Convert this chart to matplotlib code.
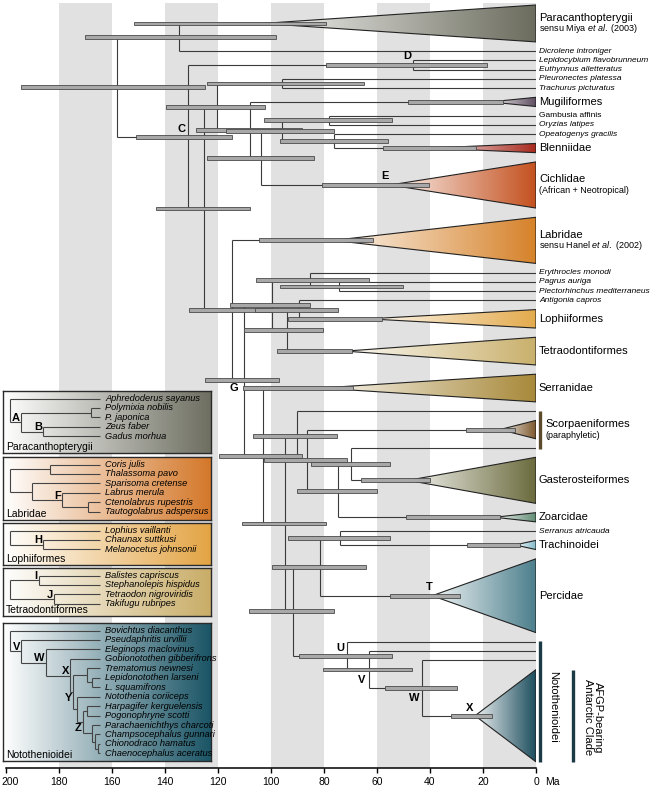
import numpy as np
import matplotlib
matplotlib.use("Agg")
import matplotlib.pyplot as plt
from matplotlib.colors import LinearSegmentedColormap, to_rgb
from matplotlib.patches import Polygon
from matplotlib.transforms import ScaledTranslation

plt.rcParams['font.family'] = ['Liberation Sans', 'DejaVu Sans']
plt.rcParams['mathtext.fontset'] = 'custom'
plt.rcParams['mathtext.rm'] = 'Liberation Sans'
plt.rcParams['mathtext.it'] = 'Liberation Sans:italic'

# ---------------- main tree: terminal lineages, top to bottom ----------------
tip_ids = ["para", "dicr", "lepi", "euth", "pleu", "trac", "mugi", "gamb", "oryz", "opea",
           "blen", "cich", "labr", "eryt", "pagr", "plec", "anti", "loph", "tetr", "serr",
           "scoa", "scor", "scob", "gast", "zoar", "sera", "trch", "perc", "bovi", "pseu",
           "eleg", "afgp"]
tip_labels = ["Paracanthopterygii", "Dicrolene introniger", "Lepidocybium flavobrunneum",
              "Euthynnus alletteratus", "Pleuronectes platessa", "Trachurus picturatus",
              "Mugiliformes", "Gambusia affinis", "Oryzias latipes", "Opeatogenys gracilis",
              "Blenniidae", "Cichlidae", "Labridae", "Erythrocles monodi", "Pagrus auriga",
              "Plectorhinchus mediterraneus", "Antigonia capros", "Lophiiformes",
              "Tetraodontiformes", "Serranidae", "", "Scorpaeniformes", "", "Gasterosteiformes",
              "Zoarcidae", "Serranus atricauda", "Trachinoidei", "Percidae", "", "", "", ""]
tip_italic = [False, True, True, True, True, True, False, False, True, True,
              False, False, False, True, True, True, True, False, False, False,
              False, False, False, False, False, True, False, False, False, False, False, False]
# number of slots a collapsed clade (triangle) takes; 0 = single lineage
tip_span = [4, 0, 0, 0, 0, 0, 1, 0, 0, 0, 1, 5, 5, 0, 0, 0, 0, 2, 3, 3,
            0, 2, 0, 5, 1, 0, 1, 8, 0, 0, 0, 10]
sub_labels = {"para": r"sensu Miya $\it{et\ al.}$ (2003)",
              "cich": "(African + Neotropical)",
              "labr": r"sensu Hanel $\it{et\ al.}$ (2002)",
              "scor": "(paraphyletic)"}

# collapsed clades: crown age and 95% interval (Ma)
clade_ids = ["para", "mugi", "blen", "cich", "labr", "loph", "tetr", "serr",
             "scor", "gast", "zoar", "trch", "perc", "afgp"]
clade_crown = [103.4, 17.4, 40.0, 55.1, 76.6, 63.4, 72.0, 81.5, 13.6, 48.3, 15.5, 7.9, 39.2, 23.0]
clade_ci_old = [151.7, 48.3, 57.7, 80.8, 104.5, 93.6, 97.7, 110.6, 26.4, 66.0, 49.1, 26.0, 55.1, 32.1]
clade_ci_young = [79.2, 12.5, 22.6, 40.4, 61.5, 58.1, 69.4, 69.1, 7.9, 40.0, 13.6, 6.0, 28.7, 16.6]
clade_colors = ["#6b6c5d", "#5c4a5e", "#a82a1e", "#c4501e", "#d6822a", "#e3aa4c", "#c9b06c",
                "#a8893a", "#7a5428", "#6b6b3e", "#5f8a72", "#86bccb", "#4c7f8c", "#1d4e5e"]

# internal nodes: age, 95% interval, children
node_ids = ["root", "n_pd", "C", "D", "n204", "n217", "n_pt", "n250", "n261", "n282",
            "n_go", "n_ob", "n232", "G", "n272", "n310", "n_pp", "n287", "n299", "n263",
            "n285", "n297", "n307", "n338", "n351", "n293", "n320", "n340", "U", "V", "W"]
node_age = [158.1, 134.7, 131.3, 46.4, 125.3, 120.4, 95.8, 107.9, 103.8, 95.8,
            78.1, 76.2, 114.7, 110.2, 99.6, 85.3, 74.3, 94.0, 89.4, 103.0,
            94.7, 90.2, 86.4, 74.7, 69.8, 91.7, 81.5, 74.0, 71.3, 63.0, 43.0]
node_ci_old = [194.3, 170.2, 150.9, 79.2, 143.4, 139.6, 124.2, 128.3, 124.2, 117.0,
               102.6, 96.6, 130.9, 124.9, 115.5, 105.7, 96.6, 110.2, 106.0, 119.6,
               110.9, 106.8, 102.6, 90.2, 84.9, 108.3, 99.6, 93.6, 89.4, 80.4, 57.0]
node_ci_young = [124.9, 98.1, 114.7, 18.5, 107.9, 102.3, 64.9, 88.3, 83.8, 76.2,
                 54.3, 55.8, 99.6, 97.0, 85.3, 63.0, 50.2, 80.4, 74.7, 88.3,
                 79.2, 75.1, 71.3, 60.0, 55.1, 76.2, 64.2, 55.1, 54.3, 46.8, 29.8]
node_children = [("n_pd", "C"), ("para", "dicr"), ("D", "n204"), ("lepi", "euth"),
                 ("n217", "n232"), ("n_pt", "n250"), ("pleu", "trac"), ("mugi", "n261"),
                 ("n282", "cich"), ("n_go", "n_ob"), ("gamb", "oryz"), ("opea", "blen"),
                 ("labr", "G"), ("n272", "n263"), ("n310", "n287"), ("eryt", "n_pp"),
                 ("pagr", "plec"), ("n299", "tetr"), ("anti", "loph"), ("serr", "n285"),
                 ("n297", "n293"), ("scoa", "n307"), ("scor", "n338"), ("n351", "zoar"),
                 ("scob", "gast"), ("n320", "U"), ("n340", "perc"), ("sera", "trch"),
                 ("bovi", "V"), ("pseu", "W"), ("eleg", "afgp")]
node_letters = {"C": "C", "D": "D", "cich": "E", "G": "G", "perc": "T",
                "U": "U", "V": "V", "W": "W", "afgp": "X"}

# ---------------- inset cladograms ----------------
panel_names = ["Paracanthopterygii", "Labridae", "Lophiiformes", "Tetraodontiformes", "Notothenioidei"]
panel_species = [
    ["Aphredoderus sayanus", "Polymixia nobilis", "P. japonica", "Zeus faber", "Gadus morhua"],
    ["Coris julis", "Thalassoma pavo", "Sparisoma cretense", "Labrus merula",
     "Ctenolabrus rupestris", "Tautogolabrus adspersus"],
    ["Lophius vaillanti", "Chaunax suttkusi", "Melanocetus johnsonii"],
    ["Balistes capriscus", "Stephanolepis hispidus", "Tetraodon nigroviridis", "Takifugu rubripes"],
    ["Bovichtus diacanthus", "Pseudaphritis urvillii", "Eleginops maclovinus",
     "Gobionotothen gibberifrons", "Trematomus newnesi", "Lepidonotothen larseni",
     "L. squamifrons", "Notothenia coriiceps", "Harpagifer kerguelensis", "Pogonophryne scotti",
     "Parachaenichthys charcoti", "Champsocephalus gunnari", "Chionodraco hamatus",
     "Chaenocephalus aceratus"]]
# (depth, label, children); ints are species indices
panel_trees = [
    (7, "", [0, (18, "A", [(88, "", [1, 2]), (40, "B", [3, 4])])]),
    (7, "", [(47, "", [0, 1]), (29, "", [2, (59, "F", [3, (85, "", [4, 5])])])]),
    (7, "", [0, (40, "H", [1, 2])]),
    (7, "", [(36, "I", [0, 1]), (51, "J", [2, 3])]),
    (7, "", [0, (18, "V", [1, (43, "W", [2, (67, "X", [3, (70, "Y", [
        (84, "", [4, (89, "", [5, 6])]),
        (74, "", [7, (80, "Z", [(84, "", [8, 9]),
                                (89, "", [10, (92, "", [11, (95, "", [12, 13])])])])])])])])])]),
]
panel_colors = ["#6e6f61", "#d4782a", "#e3a444", "#c9ad68", "#1b5566"]

# ---------------- figure ----------------
W, H = 653, 788
fig = plt.figure(figsize=(W / 100, H / 100), dpi=100)
ax = fig.add_axes([6 / W, 1 - 768 / H, 530 / W, 765 / H])
LINE = "#3a3a3a"

for a in range(180, 0, -40):
    ax.axvspan(a, a - 20, color="#e1e1e1", lw=0, zorder=0)

# tip rows
tip_y = {}
tip_top = {}
cursor = 0.0
for tid, s in zip(tip_ids, tip_span):
    if s == 0:
        tip_y[tid] = cursor
        cursor += 1
    else:
        tip_top[tid] = cursor
        tip_y[tid] = cursor + s / 2
        cursor += s + 1

crown = dict(zip(clade_ids, clade_crown))
nidx = {n: i for i, n in enumerate(node_ids)}
pos = {}


def place(n):
    if n in pos:
        return pos[n]
    if n in nidx:
        i = nidx[n]
        ys = [place(c)[1] for c in node_children[i]]
        pos[n] = (node_age[i], float(np.mean(ys)))
    else:
        pos[n] = (crown.get(n, 0.0), tip_y[n])
    return pos[n]


place("root")

for i, n in enumerate(node_ids):
    x, y = pos[n]
    kids = [pos[c] for c in node_children[i]]
    for cx, cy in kids:
        ax.hlines(cy, x, cx, color=LINE, lw=0.8, zorder=2)
    ax.vlines(x, min(k[1] for k in kids), max(k[1] for k in kids), color=LINE, lw=0.8, zorder=2)

# collapsed clades as gradient triangles
grad = np.linspace(0, 1, 256)[None, :]
for cid, c, col in zip(clade_ids, clade_crown, clade_colors):
    y = tip_y[cid]
    s = tip_span[tip_ids.index(cid)]
    poly = Polygon([(c, y), (0, y - s / 2), (0, y + s / 2)], closed=True,
                   facecolor="none", edgecolor="#222222", lw=0.8, zorder=3.5)
    ax.add_patch(poly)
    start = tuple(0.92 * np.ones(3) + 0.08 * np.array(to_rgb(col)))
    cm = LinearSegmentedColormap.from_list(cid, [start, col])
    im = ax.imshow(grad, extent=(c, 0, y + s / 2, y - s / 2), cmap=cm, aspect="auto",
                   interpolation="bilinear", zorder=3)
    im.set_clip_path(poly)

# 95% intervals
bar_y = [pos[n][1] for n in node_ids] + [tip_y[c] for c in clade_ids]
bar_old = node_ci_old + clade_ci_old
bar_young = node_ci_young + clade_ci_young
ax.barh(bar_y, np.array(bar_old) - np.array(bar_young), left=bar_young, height=0.42,
        color="#a8a8a8", edgecolor="#4a4a4a", lw=0.6, zorder=4)

# node letters
letter_off = {"C": (-7, 8), "D": (-6, 9), "E": (-5, 9), "T": (-3, 9), "U": (-7, 8),
              "X": (-5, 8), "G": (-10, -8), "V": (-7, -10), "W": (-8, -10)}
for n, lab in node_letters.items():
    x, y = pos[n]
    ax.annotate(lab, (x, y), xytext=letter_off[lab], textcoords="offset pixels",
                ha="center", va="center", fontsize=8, fontweight="bold", zorder=6)

# right-hand labels
for tid, lab, it, s in zip(tip_ids, tip_labels, tip_italic, tip_span):
    if not lab:
        continue
    y = tip_y[tid]
    x = -3.4 if tid == "scor" else -1.1
    if s == 0:
        ax.text(x, y, lab, fontsize=6.0, style="italic" if it else "normal", va="center")
    elif tid in sub_labels:
        ax.text(x, y - 0.62, lab, fontsize=8, va="center")
        ax.text(x, y + 0.6, sub_labels[tid], fontsize=6.5, va="center")
    else:
        ax.text(x, y, lab, fontsize=8, va="center")

# brackets
ax.plot([-1.5, -1.5], [tip_y["scoa"] - 0.05, tip_y["scob"] + 0.05], color="#5b4a2c",
        lw=2.4, clip_on=False, solid_capstyle="butt")
noto_bot = tip_y["afgp"] + tip_span[-1] / 2
ax.plot([-1.5, -1.5], [tip_y["bovi"] - 0.05, noto_bot], color="#1c3a44", lw=2.4,
        clip_on=False, solid_capstyle="butt")
ax.plot([-14, -14], [tip_top["afgp"], noto_bot], color="#1c3a44", lw=2.4,
        clip_on=False, solid_capstyle="butt")
ax.text(-6.4, (tip_y["bovi"] + noto_bot) / 2 + 0.5, "Notothenioidei", rotation=-90,
        fontsize=8, ha="center", va="center")
ax.text(-21.5, tip_y["afgp"] + 0.2, "AFGP-bearing\nAntarctic Clade", rotation=-90,
        fontsize=8, ha="center", va="center", multialignment="center", linespacing=1.0)

ax.set_xlim(200, 0)
ax.set_ylim((768 - 5) / 9.23, (3 - 5) / 9.23)
ax.set_xticks(range(0, 201, 20))
ax.set_yticks([])
ax.tick_params(axis="x", length=3.5, width=1, pad=3, labelsize=7.5)
# keep the leftmost label inside the figure
first = ax.get_xticklabels()[-1]
first.set_transform(first.get_transform() + ScaledTranslation(4 / 100, 0, fig.dpi_scale_trans))
for sp in ["top", "left", "right"]:
    ax.spines[sp].set_visible(False)
ax.spines["bottom"].set_linewidth(1.1)
ax.patch.set_alpha(0)
fig.text(545 / W, 1 - 782 / H, "Ma", fontsize=7.5, va="center")

# ---------------- inset panels ----------------
panel_box = [(391, 453), (457, 520), (523, 565), (568, 616), (623, 761)]
below = {"Y", "Z"}
for name, spp, tree, col, (top, bot) in zip(panel_names, panel_species, panel_trees,
                                            panel_colors, panel_box):
    h = bot - top
    axi = fig.add_axes([3 / W, 1 - bot / H, 208 / W, h / H])
    cm = LinearSegmentedColormap.from_list(name, ["white", col])
    axi.imshow(grad, extent=(0, 208, h, 0), cmap=cm, aspect="auto", interpolation="bilinear")
    axi.set_xlim(0, 208)
    axi.set_ylim(h, 0)
    axi.set_xticks([])
    axi.set_yticks([])
    for sp in axi.spines.values():
        sp.set_color("#2a2a2a")
        sp.set_linewidth(1.0)
    ty = [7.5 + 9.45 * i for i in range(len(spp))]

    def walk(node):
        if isinstance(node, int):
            return 97, ty[node]
        depth, lab, kids = node
        pts = [walk(k) for k in kids]
        ys = [p[1] for p in pts]
        for cx, cy in pts:
            axi.hlines(cy, depth, cx, color="#444444", lw=0.8)
        axi.vlines(depth, min(ys), max(ys), color="#444444", lw=0.8)
        y = float(np.mean(ys))
        if lab:
            axi.text(depth - 1.2, y + (6 if lab in below else -4.2), lab, ha="right",
                     va="center", fontsize=8, fontweight="bold")
        return depth, y

    walk(tree)
    for yy, s in zip(ty, spp):
        axi.text(102, yy, s, fontsize=6.7, style="italic", va="center")
    axi.text(3, h - 6, name, fontsize=7.5, va="center")

fig.savefig("out.png", dpi=100)
